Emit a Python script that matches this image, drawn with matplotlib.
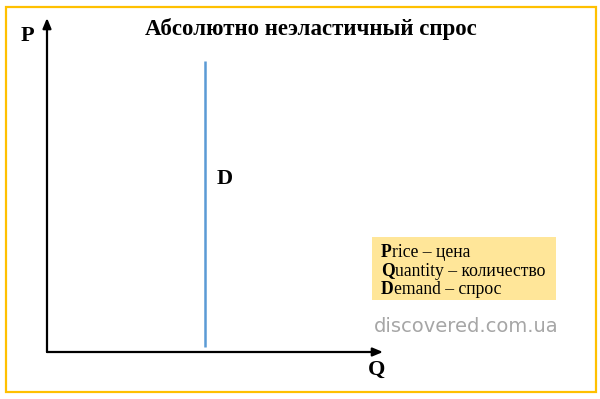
import matplotlib
matplotlib.use("Agg")
import matplotlib.pyplot as plt
from matplotlib.patches import Rectangle
from matplotlib.text import Annotation

# data
title = "Абсолютно неэластичный спрос"
q_demand = [4.7, 4.7]
p_demand = [0.15, 8.7]
legend_keys = ["P", "Q", "D"]
legend_rest = ["rice – цена", "uantity – количество", "emand – спрос"]
watermark = "discovered.com.ua"

serif = "Liberation Serif"

fig = plt.figure(figsize=(6, 3.99), dpi=100)
fig.patch.set_facecolor("white")
fig.patches.append(Rectangle((6/600, 7/399), 590/600, 385/399, transform=fig.transFigure,
                             fill=False, edgecolor="#FFC000", linewidth=1.6))

ax = fig.add_axes([47/600, 47/399, 336/600, 334/399])
ax.set_xlim(0, 10)
ax.set_ylim(0, 10)
ax.axis("off")

# axes with arrows
arrow = dict(arrowstyle="-|>,head_length=0.6,head_width=0.25", color="black", lw=1.6,
             shrinkA=0, shrinkB=0)
ax.annotate("", xy=(0, 1), xytext=(0, 0), xycoords="axes fraction", arrowprops=arrow)
ax.annotate("", xy=(1, 0), xytext=(0, 0), xycoords="axes fraction", arrowprops=arrow)

# demand line
ax.plot(q_demand, p_demand, color="#5B9BD5", lw=1.8, solid_capstyle="butt")

fig.text(27/600, 1 - 41/399, "P", fontsize=16, fontweight="bold", family=serif,
         ha="center", va="baseline")
fig.text(377/600, 1 - 375/399, "Q", fontsize=16, fontweight="bold", family=serif,
         ha="center", va="baseline")
fig.text(225/600, 1 - 184/399, "D", fontsize=16, fontweight="bold", family=serif,
         ha="center", va="baseline")
fig.text(311/600, 1 - 35/399, title, fontsize=16.5, fontweight="bold", family=serif,
         ha="center", va="baseline")

# legend box
fig.patches.append(Rectangle((372/600, 1 - 300/399), 184/600, 63/399, transform=fig.transFigure,
                             facecolor="#FFE699", edgecolor="none", zorder=-1))
for i, (k, rest) in enumerate(zip(legend_keys, legend_rest)):
    y = 1 - (257 + i * 18.5) / 399
    t = fig.text(381/600, y, k, fontsize=12.7, fontweight="bold", family=serif,
                 ha="left", va="baseline")
    fig.add_artist(Annotation(rest, xy=(1, 0), xycoords=t, ha="left", va="bottom",
                              fontsize=12.7, family=serif, annotation_clip=False))

fig.text(466/600, 1 - 326/399, watermark, fontsize=14, color="#A6A6A6",
         family="DejaVu Sans", ha="center", va="center")

fig.savefig("out.png", dpi=100)
